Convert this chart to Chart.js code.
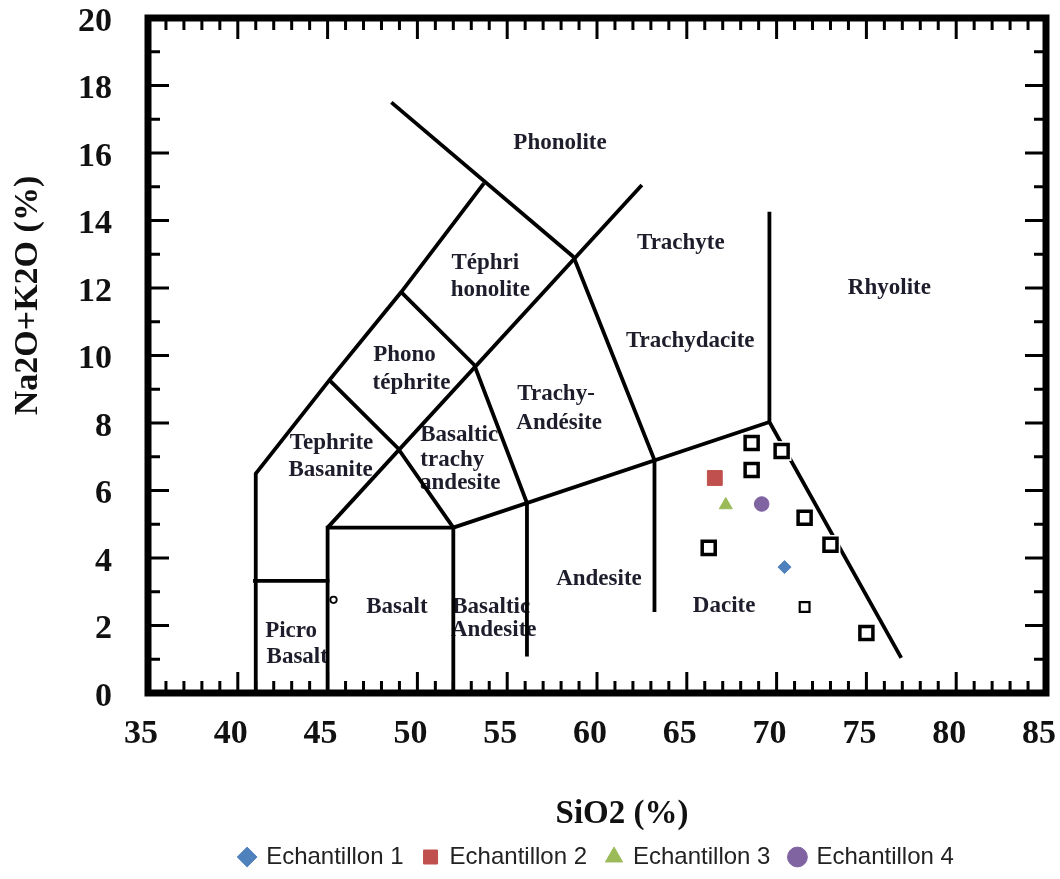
<!DOCTYPE html>
<html>
<head>
<meta charset="utf-8">
<title>Diagramme TAS</title>
<script src="https://cdn.jsdelivr.net/npm/chart.js@4.4.0/dist/chart.umd.min.js"></script>
<style>
  html, body { margin: 0; padding: 0; background: #fff; }
</style>
</head>
<body>
<canvas id="tas" width="1060" height="879"></canvas>
<script>
const SERIF = "'Liberation Serif', 'Times New Roman', serif";
const SANS = "'Liberation Sans', Arial, sans-serif";

// axes
const siMin = 35, siMax = 85, siStep = 5;
const alkMin = 0, alkMax = 20, alkStep = 2;

// analyses (SiO2 %, Na2O+K2O %)
const sampleNames = ["Echantillon 1", "Echantillon 2", "Echantillon 3", "Echantillon 4"];
const sampleSiO2 = [70.44, 66.56, 67.17, 69.17];
const sampleAlk = [3.73, 6.37, 5.57, 5.60];

// points de reference (carres vides)
const refSiO2 = [68.61, 70.28, 68.61, 71.56, 73.0, 66.22, 75.0];
const refAlk = [7.41, 7.17, 6.61, 5.19, 4.39, 4.30, 1.78];
const smallRefSiO2 = [71.56];
const smallRefAlk = [2.55];
const dotSiO2 = [45.33];
const dotAlk = [2.76];

// limites des champs du diagramme
const lineTephrite = [[41, 0], [41, 6.5], [45.1, 9.27], [49.1, 11.88], [53.7, 15.1]];
const linePhonolite = [[48.55, 17.5], [58.7, 12.92]];
const lineTrachyte = [[45, 4.9], [62.5, 15.05]];
const lineBasanite = [[45.1, 9.27], [48.9, 7.26], [52, 4.9]];
const linePhonotephrite = [[49.1, 11.88], [53.17, 9.72], [56.1, 5.63]];
const lineTrachydacite = [[58.7, 12.92], [63.2, 6.9], [63.2, 2.4]];
const lineAlkaline = [[52, 4.9], [69.6, 8.03]];
const lineRhyolite = [[69.6, 14.26], [69.6, 8.03], [76.94, 1.04]];
const lineBasalt = [[45, 0], [45, 4.9], [52, 4.9], [52, 0]];
const lineAndesite = [[56.1, 1.08], [56.1, 5.63]];
const linePicrobasalt = [[40.85, 3.32], [45.1, 3.32]];

const boundaries = [lineTephrite, linePhonolite, lineTrachyte, lineBasanite, linePhonotephrite,
  lineTrachydacite, lineAlkaline, lineRhyolite, lineBasalt, lineAndesite, linePicrobasalt];

// noms des champs : [texte, SiO2, Na2O+K2O]
const fieldLabels = [
  ["Phonolite", 57.94, 16.3],
  ["Trachyte", 64.67, 13.33],
  ["Rhyolite", 76.28, 12.0],
  ["Téphri", 53.78, 12.74],
  ["honolite", 54.06, 11.93],
  ["Phono", 49.28, 10.01],
  ["téphrite", 49.67, 9.19],
  ["Trachydacite", 65.19, 10.43],
  ["Trachy-", 57.72, 8.86],
  ["Andésite", 57.89, 8.0],
  ["Tephrite", 45.22, 7.41],
  ["Basanite", 45.17, 6.61],
  ["Basaltic", 52.33, 7.64],
  ["trachy", 51.94, 6.9],
  ["andesite", 52.39, 6.22],
  ["Basalt", 48.86, 2.55],
  ["Basaltic", 54.11, 2.55],
  ["Andesite", 54.25, 1.87],
  ["Picro", 42.97, 1.84],
  ["Basalt", 43.31, 1.07],
  ["Andesite", 60.11, 3.38],
  ["Dacite", 67.08, 2.58]
];

const sampleColors = ["#4f81bd", "#c0504d", "#9bbb59", "#8064a2"];
const sampleStyles = ["rectRot", "rect", "triangle", "circle"];
const sampleRadius = [6.5, 10.5, 7.5, 7.3];

const pts = (xs, ys) => xs.map((x, i) => ({x: x, y: ys[i]}));

const datasets = [];

sampleNames.forEach((name, i) => {
  datasets.push({
    label: name,
    data: [{x: sampleSiO2[i], y: sampleAlk[i]}],
    pointStyle: sampleStyles[i],
    pointRadius: sampleRadius[i],
    backgroundColor: sampleColors[i],
    borderColor: sampleColors[i],
    borderWidth: 1
  });
});

datasets.push({
  label: "ref",
  data: pts(refSiO2, refAlk),
  pointStyle: "rect",
  pointRadius: 9.2,
  backgroundColor: "#fff",
  borderColor: "#000",
  borderWidth: 3.5
});
datasets.push({
  label: "ref small",
  data: pts(smallRefSiO2, smallRefAlk),
  pointStyle: "rect",
  pointRadius: 6.9,
  backgroundColor: "#fff",
  borderColor: "#000",
  borderWidth: 2.2
});
datasets.push({
  label: "dot",
  data: pts(dotSiO2, dotAlk),
  pointStyle: "circle",
  pointRadius: 3.2,
  backgroundColor: "#fff",
  borderColor: "#000",
  borderWidth: 1.8
});
// fond blanc sous les carres, coupe la limite dacite / rhyolite
datasets.push({
  label: "halo",
  data: pts(refSiO2, refAlk),
  pointStyle: "rect",
  pointRadius: 14,
  backgroundColor: "#fff",
  borderWidth: 0
});

boundaries.forEach((b, i) => {
  datasets.push({
    label: "limite " + i,
    data: b.map(p => ({x: p[0], y: p[1]})),
    showLine: true,
    pointRadius: 0,
    borderColor: "#000",
    borderWidth: 3.8,
    borderJoinStyle: "miter",
    fill: false
  });
});

const tasFrame = {
  id: "tasFrame",
  beforeDatasetsDraw(chart) {
    const {ctx, scales: {x, y}} = chart;
    ctx.save();
    ctx.font = "bold 23px " + SERIF;
    ctx.fillStyle = "#1d1d2b";
    ctx.textAlign = "center";
    ctx.textBaseline = "middle";
    fieldLabels.forEach(([t, sx, sy]) => {
      ctx.fillText(t, x.getPixelForValue(sx), y.getPixelForValue(sy));
    });
    ctx.restore();
  },
  afterDatasetsDraw(chart) {
    const {ctx, chartArea: a, scales: {x, y}} = chart;
    ctx.save();
    ctx.strokeStyle = "#000";
    ctx.lineWidth = 3;
    ctx.beginPath();
    for (let v = siMin + 1; v < siMax; v++) {
      const px = x.getPixelForValue(v);
      const len = v % siStep === 0 ? 21 : 12;
      ctx.moveTo(px, a.bottom); ctx.lineTo(px, a.bottom - len);
      ctx.moveTo(px, a.top); ctx.lineTo(px, a.top + len);
    }
    for (let v = alkMin + 1; v < alkMax; v++) {
      const py = y.getPixelForValue(v);
      const len = v % alkStep === 0 ? 21 : 12;
      ctx.moveTo(a.left, py); ctx.lineTo(a.left + len, py);
      ctx.moveTo(a.right, py); ctx.lineTo(a.right - len, py);
    }
    ctx.stroke();
    ctx.lineWidth = 7;
    ctx.strokeRect(a.left, a.top, a.right - a.left, a.bottom - a.top);

    // titres des axes
    ctx.fillStyle = "#111";
    ctx.textAlign = "center";
    ctx.textBaseline = "middle";
    ctx.font = "bold 33px " + SERIF;
    ctx.fillText("SiO2 (%)", (a.left + a.right) / 2 + 25, a.bottom + 121);
    ctx.translate(28, (a.top + a.bottom) / 2 - 60);
    ctx.rotate(-Math.PI / 2);
    ctx.font = "bold 34px " + SERIF;
    ctx.fillText("Na2O+K2O (%)", 0, 0);
    ctx.restore();
  }
};

new Chart(document.getElementById("tas"), {
  type: "scatter",
  data: { datasets: datasets },
  plugins: [tasFrame],
  options: {
    responsive: false,
    animation: false,
    events: [],
    layout: { padding: { top: 18, right: 12, left: 0, bottom: 0 } },
    scales: {
      x: {
        type: "linear",
        min: siMin,
        max: siMax,
        grid: { display: false, drawTicks: false },
        border: { display: false },
        ticks: {
          stepSize: siStep,
          autoSkip: false,
          maxRotation: 0,
          padding: 21,
          labelOffset: -7,
          color: "#111",
          font: { family: SERIF, size: 34, weight: "bold" }
        },
        afterFit(s) { s.height = 132; s.paddingLeft = 0; s.paddingRight = 0; }
      },
      y: {
        type: "linear",
        min: alkMin,
        max: alkMax,
        grid: { display: false, drawTicks: false },
        border: { display: false },
        ticks: {
          stepSize: alkStep,
          padding: 36,
          labelOffset: 4,
          color: "#111",
          font: { family: SERIF, size: 34, weight: "bold", lineHeight: 1 }
        },
        afterFit(s) { s.width = 148; s.paddingTop = 0; s.paddingBottom = 0; }
      }
    },
    plugins: {
      tooltip: { enabled: false },
      legend: {
        position: "bottom",
        fullSize: false,
        labels: {
          filter: item => item.datasetIndex < sampleNames.length,
          usePointStyle: true,
          boxWidth: 14,
          boxHeight: 14,
          padding: 20,
          color: "#222",
          font: { family: SANS, size: 24 }
        }
      }
    }
  }
});
</script>
</body>
</html>
